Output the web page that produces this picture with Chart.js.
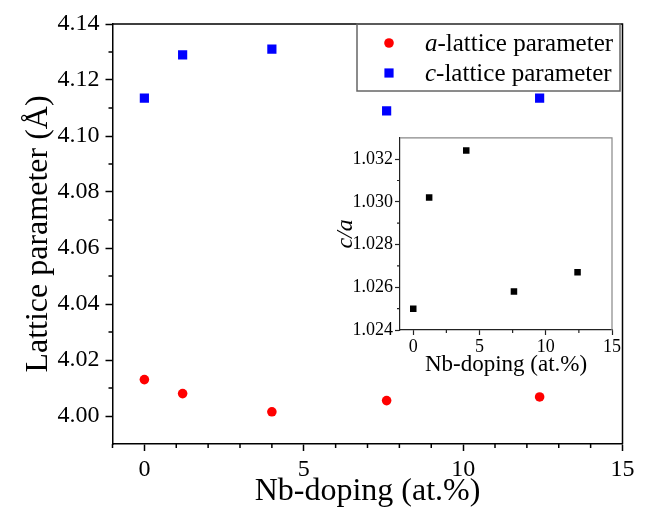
<!DOCTYPE html>
<html><head><meta charset="utf-8">
<script src="https://cdn.jsdelivr.net/npm/chart.js@4/dist/chart.umd.min.js"></script>
<style>
html,body{margin:0;padding:0;background:#fff;}
#wrap{position:relative;width:646px;height:512px;overflow:hidden;}
#main{position:absolute;left:0;top:0;}
#inset{position:absolute;left:330px;top:125px;}
</style></head><body>
<div id="wrap">
<canvas id="main" width="646" height="512"></canvas>
<canvas id="inset" width="295" height="260"></canvas>
</div>
<script>
// ---- data ----
const dopingNb = [0, 1.2, 4.0, 7.6, 12.4];
const aLattice = [4.013, 4.008, 4.0015, 4.0055, 4.0068];
const cLattice = [4.1135, 4.129, 4.131, 4.109, 4.1135];
const cOverA = [1.0250, 1.0302, 1.0324, 1.0258, 1.0267];
const seriesLabels = ['a-lattice parameter', 'c-lattice parameter'];
// ---- ticks ----
const mainXTicks = [0, 5, 10, 15];
const mainXMinor = [-1, 1, 2, 3, 4, 6, 7, 8, 9, 11, 12, 13, 14];
const mainYTicks = [4.00, 4.02, 4.04, 4.06, 4.08, 4.10, 4.12, 4.14];
const mainYMinor = [4.01, 4.03, 4.05, 4.07, 4.09, 4.11, 4.13];
const insetXTicks = [0, 5, 10, 15];
const insetXMinor = [2.5, 7.5, 12.5];
const insetYTicks = [1.024, 1.026, 1.028, 1.030, 1.032];
const insetYMinor = [1.025, 1.027, 1.029, 1.031];

const FAM = '"Liberation Serif", "Times New Roman", serif';
Chart.defaults.font.family = FAM;
Chart.defaults.color = '#000';

const toXY = (xs, ys) => xs.map((x, i) => ({x: x, y: ys[i]}));
const setTicks = arr => (s => { s.ticks = arr.map(v => ({value: v})); });

const framePlugin = {
  id: 'frame',
  afterDraw(chart, args, o) {
    const ctx = chart.ctx, a = chart.chartArea;
    ctx.save();
    ctx.strokeStyle = o.color; ctx.lineWidth = o.width;
    ctx.beginPath(); ctx.moveTo(a.left, a.top); ctx.lineTo(a.right, a.top); ctx.lineTo(a.right, a.bottom); ctx.stroke();
    const xs = chart.scales.x, ys = chart.scales.y;
    ctx.strokeStyle = o.tickColor; ctx.lineWidth = o.tickWidth;
    ctx.beginPath();
    o.xMinor.forEach(v => { const p = xs.getPixelForValue(v); ctx.moveTo(p, a.bottom); ctx.lineTo(p, a.bottom + o.minorLen); });
    o.yMinor.forEach(v => { const p = ys.getPixelForValue(v); ctx.moveTo(a.left, p); ctx.lineTo(a.left - o.minorLen, p); });
    ctx.stroke();
    ctx.restore();
  }
};

const boxLegend = {
  id: 'boxLegend',
  afterDraw(chart, args, o) {
    if (!o || !o.show) return;
    const ctx = chart.ctx;
    ctx.save();
    ctx.fillStyle = '#fff';
    ctx.strokeStyle = o.border; ctx.lineWidth = o.borderWidth;
    ctx.strokeRect(o.x, o.y, o.w, o.h);
    chart.data.datasets.forEach((ds, i) => {
      const cy = o.y + o.firstRow + i * o.rowGap;
      ctx.fillStyle = ds.backgroundColor;
      Chart.helpers.drawPoint(ctx, {pointStyle: ds.pointStyle, radius: ds.pointRadius, rotation: 0, borderWidth: 0}, o.x + o.markerX, cy);
      ctx.fillStyle = '#000';
      ctx.textBaseline = 'middle'; ctx.textAlign = 'left';
      const lab = ds.label;
      let tx = o.x + o.textX;
      ctx.font = 'italic ' + o.size + 'px ' + FAM;
      ctx.fillText(lab[0], tx, cy + 1);
      tx += ctx.measureText(lab[0]).width;
      ctx.font = o.size + 'px ' + FAM;
      ctx.fillText(lab.slice(1), tx, cy + 1);
    });
    ctx.restore();
  }
};

new Chart(document.getElementById('main'), {
  type: 'scatter',
  data: {
    datasets: [
      {label: seriesLabels[0], data: toXY(dopingNb, aLattice), backgroundColor: '#ff0000', pointStyle: 'circle', pointRadius: 4.8, pointBorderWidth: 0},
      {label: seriesLabels[1], data: toXY(dopingNb, cLattice), backgroundColor: '#0000ff', pointStyle: 'rect', pointRadius: 6.5, pointBorderWidth: 0}
    ]
  },
  options: {
    responsive: false, animation: false, devicePixelRatio: 1,
    layout: {padding: {left: 0, top: 24, right: 23.5, bottom: 0}},
    plugins: {
      legend: {display: false}, tooltip: {enabled: false},
      frame: {color: '#000', width: 1.5, tickColor: '#000', tickWidth: 1.5, minorLen: 4, xMinor: mainXMinor, yMinor: mainYMinor},
      boxLegend: {show: true, x: 357, y: 24, w: 263, h: 67, border: '#666', borderWidth: 1.5, firstRow: 19, rowGap: 30, markerX: 32, textX: 68, size: 25}
    },
    scales: {
      x: {
        type: 'linear', min: -1, max: 15,
        afterBuildTicks: setTicks(mainXTicks),
        afterFit: s => { s.height = 68; },
        border: {display: true, color: '#000', width: 1.5},
        grid: {drawOnChartArea: false, drawTicks: true, tickLength: 7, tickColor: '#000', tickWidth: 1.5},
        ticks: {font: {size: 24}, padding: 4, maxRotation: 0, autoSkip: false, callback: v => String(v)},
        title: {display: true, text: 'Nb-doping (at.%)', font: {size: 32}, padding: {top: 0, bottom: 1}}
      },
      y: {
        type: 'linear', min: 3.99, max: 4.14,
        afterBuildTicks: setTicks(mainYTicks),
        afterFit: s => { s.width = 112.5; },
        border: {display: true, color: '#000', width: 1.5},
        grid: {drawOnChartArea: false, drawTicks: true, tickLength: 7, tickColor: '#000', tickWidth: 1.5},
        ticks: {font: {size: 24}, padding: 6, autoSkip: false, callback: v => v.toFixed(2)},
        title: {display: true, text: 'Lattice parameter (Å)', font: {size: 32}, padding: {top: 19, bottom: 0}}
      }
    }
  },
  plugins: [framePlugin, boxLegend]
});

new Chart(document.getElementById('inset'), {
  type: 'scatter',
  data: {
    datasets: [
      {label: 'c/a', data: toXY(dopingNb, cOverA), backgroundColor: '#000', pointStyle: 'rect', pointRadius: 4.6, pointBorderWidth: 0}
    ]
  },
  options: {
    responsive: false, animation: false, devicePixelRatio: 1,
    layout: {padding: {left: 0, top: 12, right: 13, bottom: 0}},
    plugins: {
      legend: {display: false}, tooltip: {enabled: false},
      frame: {color: '#888', width: 1.2, tickColor: '#222', tickWidth: 1.2, minorLen: 3, xMinor: insetXMinor, yMinor: insetYMinor},
      boxLegend: {show: false}
    },
    scales: {
      x: {
        type: 'linear', min: -1, max: 15,
        afterBuildTicks: setTicks(insetXTicks),
        afterFit: s => { s.height = 55; },
        border: {display: true, color: '#222', width: 1.2},
        grid: {drawOnChartArea: false, drawTicks: true, tickLength: 5, tickColor: '#222', tickWidth: 1.2},
        ticks: {font: {size: 18}, padding: 1, maxRotation: 0, autoSkip: false, callback: v => String(v)},
        title: {display: true, text: 'Nb-doping (at.%)', font: {size: 23}, padding: {top: 0, bottom: 6}}
      },
      y: {
        type: 'linear', min: 1.024, max: 1.033,
        afterBuildTicks: setTicks(insetYTicks),
        afterFit: s => { s.width = 70; },
        border: {display: true, color: '#222', width: 1.2},
        grid: {drawOnChartArea: false, drawTicks: true, tickLength: 5, tickColor: '#222', tickWidth: 1.2},
        ticks: {font: {size: 18}, padding: 2, autoSkip: false, callback: v => v.toFixed(3)},
        title: {display: true, text: 'c/a', font: {size: 24, style: 'italic'}, padding: {top: 1, bottom: 0}}
      }
    }
  },
  plugins: [framePlugin, boxLegend]
});
</script>
</body></html>
